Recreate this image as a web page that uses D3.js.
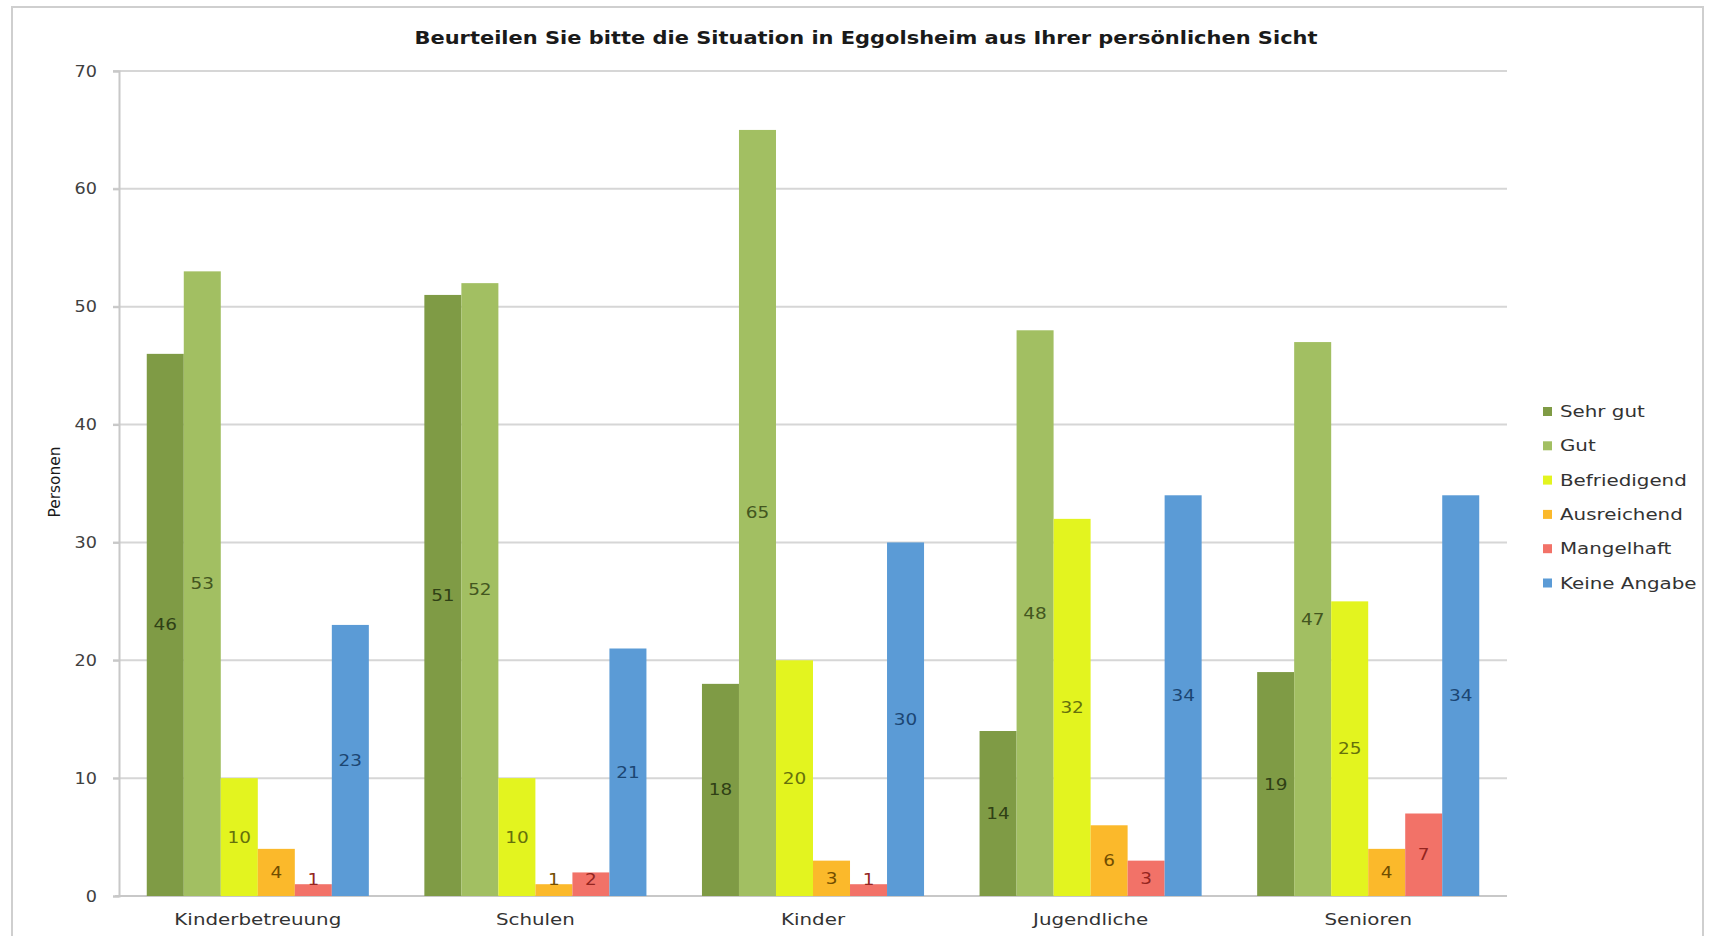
<!DOCTYPE html>
<html>
<head>
<meta charset="utf-8">
<script src="https://cdn.jsdelivr.net/npm/d3@7"></script>
<style>
  html, body { margin: 0; padding: 0; background: #ffffff; }
  svg { display: block; }
  text { font-family: "DejaVu Sans", "Open Sans", sans-serif; }
</style>
</head>
<body>
<svg id="chart" width="1710" height="936"></svg>
<script>
// ---- data ----
const title = "Beurteilen Sie bitte die Situation in Eggolsheim aus Ihrer persönlichen Sicht";
const yAxisTitle = "Personen";
const categories = ["Kinderbetreuung", "Schulen", "Kinder", "Jugendliche", "Senioren"];
const seriesNames = ["Sehr gut", "Gut", "Befriedigend", "Ausreichend", "Mangelhaft", "Keine Angabe"];
const sehrGut     = [46, 51, 18, 14, 19];
const gut         = [53, 52, 65, 48, 47];
const befriedigend= [10, 10, 20, 32, 25];
const ausreichend = [4, 1, 3, 6, 4];
const mangelhaft  = [1, 2, 1, 3, 7];
const keineAngabe = [23, 21, 30, 34, 34];
const yTicks = [0, 10, 20, 30, 40, 50, 60, 70];

const seriesValues = [sehrGut, gut, befriedigend, ausreichend, mangelhaft, keineAngabe];
const barColors   = ["#7f9b45", "#a2bf62", "#e3f41f", "#fbb92b", "#f27268", "#5b9bd6"];
const labelColors = ["#2f4015", "#435620", "#65700c", "#724e00", "#942520", "#1b4673"];

// horizontal stretch of text to mimic the wide lettering of the original
function stretch(sel, factor) {
  sel.each(function() {
    const len = this.getComputedTextLength();
    d3.select(this).attr("textLength", len * factor).attr("lengthAdjust", "spacingAndGlyphs");
  });
}

// ---- layout ----
const svg = d3.select("#chart");
const plot = { left: 119, right: 1507, top: 71, bottom: 896 };

// frame
svg.append("rect")
  .attr("x", 12).attr("y", 7).attr("width", 1691).attr("height", 960)
  .attr("fill", "#ffffff").attr("stroke", "#cfcfcf").attr("stroke-width", 2);

const x0 = d3.scaleBand().domain(categories).range([plot.left, plot.right]).padding(0);
const bw = x0.bandwidth();
const x1 = d3.scaleBand().domain(seriesNames).range([bw * 0.1, bw * 0.9]).padding(0);
const y = d3.scaleLinear().domain([0, 70]).range([plot.bottom, plot.top]);

// gridlines
svg.append("g").selectAll("line").data(yTicks.filter(d => d > 0)).join("line")
  .attr("x1", plot.left - 6).attr("x2", plot.right)
  .attr("y1", d => y(d)).attr("y2", d => y(d))
  .attr("stroke", "#d6d6d6").attr("stroke-width", 2);

// y axis
const yAxis = svg.append("g")
  .attr("transform", `translate(${plot.left},0)`)
  .call(d3.axisLeft(y).tickValues(yTicks).tickSize(6).tickPadding(16));
yAxis.select(".domain").attr("stroke", "#c8c8c8").attr("stroke-width", 2);
yAxis.selectAll(".tick line").attr("stroke", "#c8c8c8").attr("stroke-width", 2);
yAxis.selectAll(".tick text")
  .attr("font-size", 16).attr("fill", "#404040")
  .style("font-family", '"DejaVu Sans", sans-serif')
  .call(stretch, 1.1);

// x axis baseline and labels
const xAxis = svg.append("g")
  .attr("transform", `translate(0,${plot.bottom})`)
  .call(d3.axisBottom(x0).tickSize(0).tickPadding(18));
xAxis.select(".domain").attr("stroke", "#c8c8c8").attr("stroke-width", 2)
  .attr("d", `M${plot.left - 4},0H${plot.right}`);
xAxis.selectAll(".tick text")
  .attr("font-size", 15.5).attr("fill", "#333333")
  .style("font-family", '"DejaVu Sans", sans-serif')
  .call(stretch, 1.28);

// bars
const groups = svg.append("g").selectAll("g").data(categories).join("g")
  .attr("transform", d => `translate(${x0(d)},0)`);

groups.each(function(cat, ci) {
  const g = d3.select(this);
  seriesNames.forEach((s, si) => {
    const v = seriesValues[si][ci];
    g.append("rect")
      .attr("x", x1(s)).attr("width", x1.bandwidth())
      .attr("y", y(v)).attr("height", y(0) - y(v))
      .attr("fill", barColors[si]);
  });
  seriesNames.forEach((s, si) => {
    const v = seriesValues[si][ci];
    const cy = Math.min((y(v) + y(0)) / 2, y(0) - 17);
    g.append("text")
      .attr("x", x1(s) + x1.bandwidth() / 2)
      .attr("y", cy)
      .attr("text-anchor", "middle")
      .attr("dominant-baseline", "central")
      .attr("font-size", 16)
      .attr("fill", labelColors[si])
      .text(v)
      .call(stretch, 1.15);
  });
});

// title
svg.append("text")
  .attr("x", 866).attr("y", 38)
  .attr("text-anchor", "middle").attr("dominant-baseline", "central")
  .attr("font-size", 17).attr("font-weight", "bold").attr("fill", "#1a1a1a")
  .attr("textLength", 903).attr("lengthAdjust", "spacingAndGlyphs")
  .text(title);

// y axis title
svg.append("text")
  .attr("transform", "translate(55,482) rotate(-90)")
  .attr("text-anchor", "middle").attr("dominant-baseline", "central")
  .attr("font-size", 15).attr("fill", "#1a1a1a")
  .attr("textLength", 71).attr("lengthAdjust", "spacingAndGlyphs")
  .text(yAxisTitle);

// legend
const legend = svg.append("g").selectAll("g").data(seriesNames).join("g")
  .attr("transform", (d, i) => `translate(1543,${412 + i * 34.3})`);
legend.append("rect")
  .attr("x", 0).attr("y", -5).attr("width", 9).attr("height", 9)
  .attr("fill", (d, i) => barColors[i]);
legend.append("text")
  .attr("x", 17).attr("y", 0).attr("dominant-baseline", "central")
  .attr("font-size", 15.5).attr("fill", "#333333")
  .text(d => d)
  .call(stretch, 1.28);
</script>
</body>
</html>
